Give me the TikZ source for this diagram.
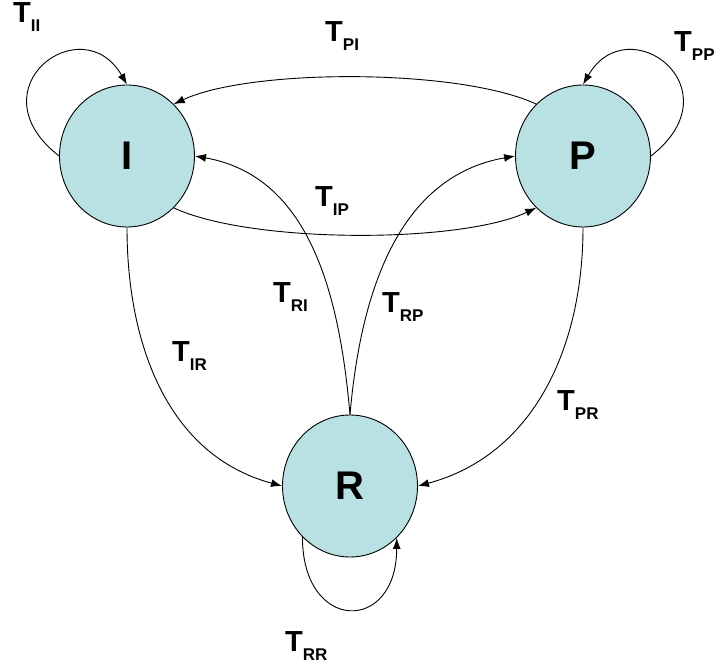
\documentclass[tikz,border=0pt]{standalone}
\usepackage{fontspec}
\setmainfont{Liberation Sans}
\usepackage{tikz}
\usetikzlibrary{shapes.geometric,arrows.meta}
\definecolor{stateblue}{HTML}{B9E0E3}

\newcommand{\trans}[1]{%
  {\fontsize{29}{29}\selectfont\bfseries T}%
  \raisebox{-9pt}{\fontsize{17}{17}\selectfont\bfseries #1}}

\tikzset{
  state/.style={ellipse, draw, line width=0.9pt, fill=stateblue,
    minimum width=135pt, minimum height=142pt, inner sep=0pt,
    font=\fontsize{40}{40}\selectfont\bfseries},
  flow/.style={-{Latex[length=11pt,width=8pt]}, line width=0.9pt},
  tlabel/.style={anchor=base west, inner sep=0pt}
}

\begin{document}
\begin{tikzpicture}[x=1pt,y=1pt]
    \useasboundingbox (0,0) rectangle (721,670);

    \node[state] (I) at (127,514) {I};
    \node[state] (P) at (583,514) {P};
    \node[state] (R) at (350,184) {R};

    % self loops
    \draw[flow] (I.west) to[out=142,in=120,out distance=110,in distance=90] (I.north);
    \draw[flow] (P.east) to[out=38,in=60,out distance=110,in distance=90] (P.north);
    \draw[flow] (R.227) to[out=270,in=270,out distance=96,in distance=96] (R.312);

    % between states
    \draw[flow] (P.132) to[out=155,in=25,looseness=0.6] (I.48);
    \draw[flow] (I.-48) to[out=-25,in=205,looseness=0.6] (P.228);
    \draw[flow] (R.north) to[out=95,in=-10] (I.east);
    \draw[flow] (R.north) to[out=85,in=190] (P.west);
    \draw[flow] (I.south) to[out=-90,in=165] (R.west);
    \draw[flow] (P.south) to[out=-90,in=15] (R.east);

    \node[tlabel] (tii) at (13,647) {\trans{II}};
    \node[tlabel] (tpi) at (325,628) {\trans{PI}};
    \node[tlabel] (tpp) at (674,618) {\trans{PP}};
    \node[tlabel] (tip) at (315,463) {\trans{IP}};
    \node[tlabel] (tri) at (273,367) {\trans{RI}};
    \node[tlabel] (trp) at (382,357) {\trans{RP}};
    \node[tlabel] (tir) at (172,308) {\trans{IR}};
    \node[tlabel] (tpr) at (557,259) {\trans{PR}};
    \node[tlabel] (trr) at (285,18) {\trans{RR}};
\end{tikzpicture}
\end{document}
